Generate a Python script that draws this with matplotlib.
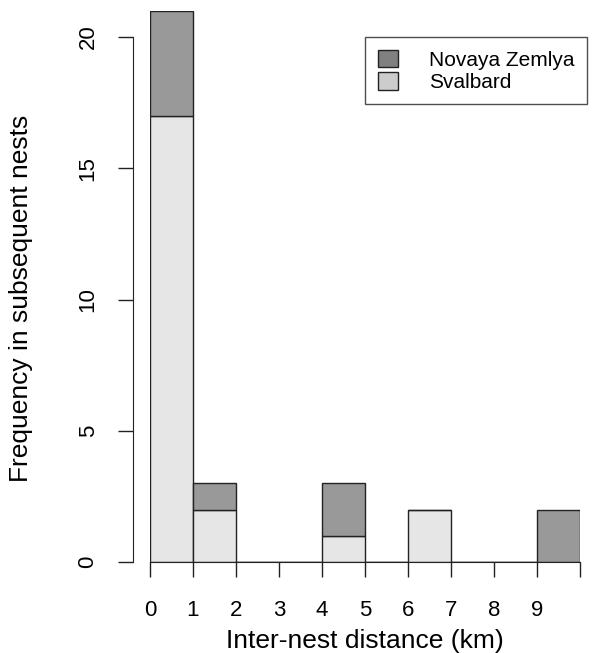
import matplotlib
matplotlib.use("Agg")
import matplotlib.pyplot as plt
from matplotlib.patches import Patch

plt.rcParams['font.family'] = ['Liberation Sans', 'DejaVu Sans']

# 1 km bins, 0-10 km
bin_left = [0, 1, 2, 3, 4, 5, 6, 7, 8, 9]
svalbard = [17, 2, 0, 0, 1, 0, 2, 0, 0, 0]
novaya = [4, 1, 0, 0, 2, 0, 0, 0, 0, 2]
tick_pos = [0, 1, 2, 3, 4, 5, 6, 7, 8, 9, 10]
tick_lab = ['0', '1', '2', '3', '4', '5', '6', '7', '8', '9', '']

col_sv = '#e6e6e6'
col_nz = '#999999'

fig = plt.figure(figsize=(5.92, 6.53), dpi=100)
W, H = 592, 653
ax = fig.add_axes([150 / W, (H - 562) / H, 430 / W, (562 - 10.75) / H])

ax.bar(bin_left, svalbard, width=1, align='edge', color=col_sv,
       edgecolor='#222222', linewidth=1)
ax.bar(bin_left, novaya, width=1, align='edge', bottom=svalbard, color=col_nz,
       edgecolor='#222222', linewidth=1)

ax.set_xlim(0, 10)
ax.set_ylim(0, 21)

for s in ['top', 'right']:
    ax.spines[s].set_visible(False)
ax.spines['left'].set_position(('outward', 12))
ax.spines['left'].set_bounds(0, 20)
ax.spines['bottom'].set_bounds(0, 10)
ax.spines['left'].set_color('#222222')
ax.spines['bottom'].set_color('#222222')

ax.set_xticks(tick_pos)
ax.set_xticklabels(tick_lab)
ax.set_yticks([0, 5, 10, 15, 20])
ax.tick_params(axis='both', length=11, width=1, color='#222222', labelsize=16)
ax.tick_params(axis='x', pad=16)
ax.tick_params(axis='y', pad=14)
for t in ax.get_yticklabels():
    t.set_rotation(90)
    t.set_va('center')

ax.set_xlabel('Inter-nest distance (km)', fontsize=19, va='center')
ax.xaxis.set_label_coords(0.5, (562 - 641) / 551.25)
ax.set_ylabel('Frequency in subsequent nests', fontsize=19, va='center')
ax.yaxis.set_label_coords((21 - 150) / 430, (562 - 298) / 551.25)

handles = [Patch(facecolor='#808080', edgecolor='#222222', label='Novaya Zemlya'),
           Patch(facecolor='#cccccc', edgecolor='#222222', label='Svalbard')]
leg = ax.legend(handles=handles, loc='upper right', bbox_to_anchor=(587 / W, (H - 37) / H),
                bbox_transform=fig.transFigure, fontsize=15, frameon=True, fancybox=False,
                edgecolor='#222222', handlelength=0.95, handleheight=0.95, handletextpad=1.5,
                labelspacing=0.1, borderpad=0.6, borderaxespad=0)
leg.get_frame().set_linewidth(1)

fig.savefig('out.png', dpi=100)
